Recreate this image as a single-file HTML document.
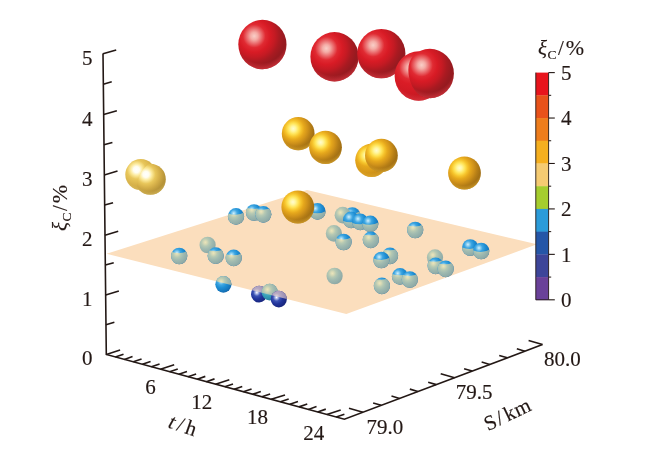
<!DOCTYPE html>
<html><head><meta charset="utf-8"><title>3D scatter</title>
<style>
html,body{margin:0;padding:0;background:#fff}
svg{display:block}
text{font-family:"Liberation Serif",serif;fill:#231815;stroke:#231815;stroke-width:0.15px}
</style></head><body>
<svg width="650" height="471" viewBox="0 0 650 471">
<defs>
<radialGradient id="gRed" cx="0.33" cy="0.33" r="0.78" fx="0.33" fy="0.33"><stop offset="0" stop-color="#f9cfc8"/><stop offset="0.1" stop-color="#f4aca6"/><stop offset="0.2" stop-color="#ea6a6c"/><stop offset="0.3" stop-color="#e02a32"/><stop offset="0.42" stop-color="#d81b25"/><stop offset="0.55" stop-color="#c41a23"/><stop offset="0.67" stop-color="#a91a21"/><stop offset="0.8" stop-color="#971a20"/><stop offset="1" stop-color="#8f1a1f"/></radialGradient>
<radialGradient id="gRedB" cx="0.33" cy="0.33" r="0.78" fx="0.33" fy="0.33"><stop offset="0" stop-color="#f9cfc8"/><stop offset="0.1" stop-color="#f4aca6"/><stop offset="0.2" stop-color="#ea6a6c"/><stop offset="0.3" stop-color="#e02a32"/><stop offset="0.42" stop-color="#da1c26"/><stop offset="0.6" stop-color="#d21a24"/><stop offset="0.8" stop-color="#c41a23"/><stop offset="1" stop-color="#b41a22"/></radialGradient>
<radialGradient id="rRed" cx="0.47" cy="0.34" r="0.67"><stop offset="0.8" stop-color="#e23a44" stop-opacity="0"/><stop offset="1" stop-color="#e23a44" stop-opacity="0.7"/></radialGradient>
<radialGradient id="gGold" cx="0.35" cy="0.35" r="0.77" fx="0.35" fy="0.35"><stop offset="0" stop-color="#fffbd0"/><stop offset="0.1" stop-color="#fff6a0"/><stop offset="0.21" stop-color="#ffe458"/><stop offset="0.32" stop-color="#f6c42c"/><stop offset="0.43" stop-color="#e6a81c"/><stop offset="0.57" stop-color="#d0921a"/><stop offset="0.7" stop-color="#b67e16"/><stop offset="0.84" stop-color="#a06e14"/><stop offset="1" stop-color="#946412"/></radialGradient>
<radialGradient id="gGoldB" cx="0.35" cy="0.35" r="0.77" fx="0.35" fy="0.35"><stop offset="0" stop-color="#fffbd0"/><stop offset="0.1" stop-color="#fff6a0"/><stop offset="0.21" stop-color="#ffe458"/><stop offset="0.32" stop-color="#f6c42c"/><stop offset="0.43" stop-color="#e6a81c"/><stop offset="0.62" stop-color="#d89a1a"/><stop offset="0.82" stop-color="#c88c18"/><stop offset="1" stop-color="#b88016"/></radialGradient>
<radialGradient id="rGold" cx="0.47" cy="0.34" r="0.67"><stop offset="0.8" stop-color="#e6b030" stop-opacity="0"/><stop offset="1" stop-color="#e6b030" stop-opacity="0.7"/></radialGradient>
<radialGradient id="gPale" cx="0.36" cy="0.34" r="0.76" fx="0.36" fy="0.34"><stop offset="0" stop-color="#ffffff"/><stop offset="0.13" stop-color="#fffdf0"/><stop offset="0.25" stop-color="#fcea9c"/><stop offset="0.4" stop-color="#e8c65a"/><stop offset="0.58" stop-color="#d4ae48"/><stop offset="0.78" stop-color="#b9963a"/><stop offset="1" stop-color="#a88834"/></radialGradient>
<radialGradient id="gPaleB" cx="0.36" cy="0.34" r="0.76" fx="0.36" fy="0.34"><stop offset="0" stop-color="#ffffff"/><stop offset="0.13" stop-color="#fffdf0"/><stop offset="0.25" stop-color="#fcea9c"/><stop offset="0.4" stop-color="#e8c65a"/><stop offset="0.62" stop-color="#d9b44c"/><stop offset="0.85" stop-color="#c8a342"/><stop offset="1" stop-color="#b9963a"/></radialGradient>
<radialGradient id="rPale" cx="0.47" cy="0.34" r="0.67"><stop offset="0.8" stop-color="#e4c666" stop-opacity="0"/><stop offset="1" stop-color="#e4c666" stop-opacity="0.6"/></radialGradient>
<radialGradient id="gBlue" cx="0.36" cy="0.32" r="0.78" fx="0.36" fy="0.32"><stop offset="0" stop-color="#d8f0fb"/><stop offset="0.1" stop-color="#9ad6f3"/><stop offset="0.28" stop-color="#3ea6e2"/><stop offset="0.5" stop-color="#1f8fd4"/><stop offset="0.78" stop-color="#1677be"/><stop offset="1" stop-color="#135f9e"/></radialGradient>
<radialGradient id="gTint" cx="0.36" cy="0.34" r="0.78" fx="0.36" fy="0.34"><stop offset="0" stop-color="#ebe5bc"/><stop offset="0.12" stop-color="#dadbb6"/><stop offset="0.3" stop-color="#b6c9b3"/><stop offset="0.52" stop-color="#a0bab0"/><stop offset="0.8" stop-color="#90aca8"/><stop offset="1" stop-color="#849e9c"/></radialGradient>
<radialGradient id="gNavy" cx="0.36" cy="0.4" r="0.78" fx="0.36" fy="0.4"><stop offset="0" stop-color="#ffffff"/><stop offset="0.1" stop-color="#b5c0ea"/><stop offset="0.28" stop-color="#3b52b4"/><stop offset="0.5" stop-color="#21349a"/><stop offset="0.8" stop-color="#18267e"/><stop offset="1" stop-color="#121c66"/></radialGradient>
<radialGradient id="gNavyT" cx="0.36" cy="0.36" r="0.78" fx="0.36" fy="0.36"><stop offset="0" stop-color="#e4dcd8"/><stop offset="0.25" stop-color="#b9abc4"/><stop offset="0.6" stop-color="#a093b6"/><stop offset="1" stop-color="#8a7ea6"/></radialGradient>
<radialGradient id="gTeal" cx="0.36" cy="0.36" r="0.78" fx="0.36" fy="0.36"><stop offset="0" stop-color="#d0ecec"/><stop offset="0.15" stop-color="#7cc4d0"/><stop offset="0.45" stop-color="#3aa2ba"/><stop offset="0.8" stop-color="#2886a4"/><stop offset="1" stop-color="#1f7492"/></radialGradient>
<clipPath id="cpPlane"><polygon points="106.6,253.8 307,190 537,244.3 346.3,314.0"/></clipPath>
</defs>
<rect width="650" height="471" fill="#fff"/>
<polygon points="106.6,253.8 307,190 537,244.3 346.3,314.0" fill="#fbdebd"/>
<ellipse cx="179.2" cy="256.0" rx="8.1" ry="8.35" fill="url(#gBlue)"/>
<clipPath id="c1"><path d="M170.1,251.30 Q180.2,255.40 188.29999999999998,250.50 V265.1 H170.1 Z"/></clipPath>
<ellipse cx="179.2" cy="256.0" rx="8.1" ry="8.35" fill="url(#gTint)" clip-path="url(#c1)"/>
<ellipse cx="207.6" cy="245.0" rx="8.1" ry="8.35" fill="url(#gTint)"/>
<ellipse cx="215.7" cy="255.7" rx="8.1" ry="8.35" fill="url(#gBlue)"/>
<clipPath id="c2"><path d="M206.6,249.30 Q216.7,253.40 224.79999999999998,248.50 V264.8 H206.6 Z"/></clipPath>
<ellipse cx="215.7" cy="255.7" rx="8.1" ry="8.35" fill="url(#gTint)" clip-path="url(#c2)"/>
<ellipse cx="233.7" cy="257.9" rx="8.1" ry="8.35" fill="url(#gBlue)"/>
<clipPath id="c3"><path d="M224.6,253.50 Q234.7,257.60 242.79999999999998,252.70 V267.0 H224.6 Z"/></clipPath>
<ellipse cx="233.7" cy="257.9" rx="8.1" ry="8.35" fill="url(#gTint)" clip-path="url(#c3)"/>
<ellipse cx="254.0" cy="212.5" rx="8.1" ry="8.35" fill="url(#gBlue)"/>
<clipPath id="c4"><path d="M244.9,207.10 Q255.0,211.20 263.1,206.30 V221.6 H244.9 Z"/></clipPath>
<ellipse cx="254.0" cy="212.5" rx="8.1" ry="8.35" fill="url(#gTint)" clip-path="url(#c4)"/>
<ellipse cx="263.3" cy="214.3" rx="8.1" ry="8.35" fill="url(#gBlue)"/>
<clipPath id="c5"><path d="M254.20000000000002,207.90 Q264.3,212.00 272.40000000000003,207.10 V223.4 H254.20000000000002 Z"/></clipPath>
<ellipse cx="263.3" cy="214.3" rx="8.1" ry="8.35" fill="url(#gTint)" clip-path="url(#c5)"/>
<ellipse cx="236.0" cy="216.4" rx="8.1" ry="8.35" fill="url(#gBlue)"/>
<clipPath id="c6"><path d="M226.9,212.90 Q237.0,217.00 245.1,212.10 V225.5 H226.9 Z"/></clipPath>
<ellipse cx="236.0" cy="216.4" rx="8.1" ry="8.35" fill="url(#gTint)" clip-path="url(#c6)"/>
<ellipse cx="317.5" cy="211.4" rx="8.1" ry="8.35" fill="url(#gBlue)"/>
<clipPath id="c7"><path d="M308.4,211.50 Q318.5,215.60 326.6,210.70 V220.5 H308.4 Z"/></clipPath>
<ellipse cx="317.5" cy="211.4" rx="8.1" ry="8.35" fill="url(#gTint)" clip-path="url(#c7)"/>
<ellipse cx="352.3" cy="215.5" rx="8.1" ry="8.35" fill="url(#gBlue)"/>
<clipPath id="c8"><path d="M343.2,211.60 Q353.3,215.70 361.40000000000003,210.80 V224.6 H343.2 Z"/></clipPath>
<ellipse cx="352.3" cy="215.5" rx="8.1" ry="8.35" fill="url(#gTint)" clip-path="url(#c8)"/>
<ellipse cx="342.7" cy="215.2" rx="8.1" ry="8.35" fill="url(#gTint)"/>
<ellipse cx="351.1" cy="219.9" rx="8.1" ry="8.35" fill="url(#gBlue)"/>
<clipPath id="c9"><path d="M342.0,220.50 Q352.1,224.60 360.20000000000005,219.70 V229.0 H342.0 Z"/></clipPath>
<ellipse cx="351.1" cy="219.9" rx="8.1" ry="8.35" fill="url(#gTint)" clip-path="url(#c9)"/>
<ellipse cx="360.2" cy="221.8" rx="8.1" ry="8.35" fill="url(#gBlue)"/>
<clipPath id="c10"><path d="M351.09999999999997,222.40 Q361.2,226.50 369.3,221.60 V230.9 H351.09999999999997 Z"/></clipPath>
<ellipse cx="360.2" cy="221.8" rx="8.1" ry="8.35" fill="url(#gTint)" clip-path="url(#c10)"/>
<ellipse cx="370.3" cy="223.8" rx="8.1" ry="8.35" fill="url(#gBlue)"/>
<clipPath id="c11"><path d="M361.2,222.90 Q371.3,227.00 379.40000000000003,222.10 V232.9 H361.2 Z"/></clipPath>
<ellipse cx="370.3" cy="223.8" rx="8.1" ry="8.35" fill="url(#gTint)" clip-path="url(#c11)"/>
<ellipse cx="333.9" cy="233.4" rx="8.1" ry="8.35" fill="url(#gTint)"/>
<ellipse cx="343.6" cy="242.0" rx="8.1" ry="8.35" fill="url(#gBlue)"/>
<clipPath id="c12"><path d="M334.5,237.60 Q344.6,241.70 352.70000000000005,236.80 V251.1 H334.5 Z"/></clipPath>
<ellipse cx="343.6" cy="242.0" rx="8.1" ry="8.35" fill="url(#gTint)" clip-path="url(#c12)"/>
<ellipse cx="370.8" cy="239.8" rx="8.1" ry="8.35" fill="url(#gBlue)"/>
<clipPath id="c13"><path d="M361.7,233.40 Q371.8,237.50 379.90000000000003,232.60 V248.9 H361.7 Z"/></clipPath>
<ellipse cx="370.8" cy="239.8" rx="8.1" ry="8.35" fill="url(#gTint)" clip-path="url(#c13)"/>
<ellipse cx="415.2" cy="230.0" rx="8.1" ry="8.35" fill="url(#gBlue)"/>
<clipPath id="c14"><path d="M406.09999999999997,224.60 Q416.2,228.70 424.3,223.80 V239.1 H406.09999999999997 Z"/></clipPath>
<ellipse cx="415.2" cy="230.0" rx="8.1" ry="8.35" fill="url(#gTint)" clip-path="url(#c14)"/>
<ellipse cx="390.0" cy="255.8" rx="8.1" ry="8.35" fill="url(#gBlue)"/>
<clipPath id="c15"><path d="M380.9,248.40 Q391.0,252.50 399.1,247.60 V264.90000000000003 H380.9 Z"/></clipPath>
<ellipse cx="390.0" cy="255.8" rx="8.1" ry="8.35" fill="url(#gTint)" clip-path="url(#c15)"/>
<ellipse cx="381.4" cy="260.0" rx="8.1" ry="8.35" fill="url(#gBlue)"/>
<clipPath id="c16"><path d="M372.29999999999995,258.10 Q382.4,262.20 390.5,257.30 V269.1 H372.29999999999995 Z"/></clipPath>
<ellipse cx="381.4" cy="260.0" rx="8.1" ry="8.35" fill="url(#gTint)" clip-path="url(#c16)"/>
<ellipse cx="435.0" cy="257.6" rx="8.1" ry="8.35" fill="url(#gTint)"/>
<ellipse cx="435.6" cy="265.8" rx="8.1" ry="8.35" fill="url(#gBlue)"/>
<clipPath id="c17"><path d="M426.5,259.90 Q436.6,264.00 444.70000000000005,259.10 V274.90000000000003 H426.5 Z"/></clipPath>
<ellipse cx="435.6" cy="265.8" rx="8.1" ry="8.35" fill="url(#gTint)" clip-path="url(#c17)"/>
<ellipse cx="445.7" cy="268.8" rx="8.1" ry="8.35" fill="url(#gBlue)"/>
<clipPath id="c18"><path d="M436.59999999999997,262.40 Q446.7,266.50 454.8,261.60 V277.90000000000003 H436.59999999999997 Z"/></clipPath>
<ellipse cx="445.7" cy="268.8" rx="8.1" ry="8.35" fill="url(#gTint)" clip-path="url(#c18)"/>
<ellipse cx="400.0" cy="276.4" rx="8.1" ry="8.35" fill="url(#gBlue)"/>
<clipPath id="c19"><path d="M390.9,273.50 Q401.0,277.60 409.1,272.70 V285.5 H390.9 Z"/></clipPath>
<ellipse cx="400.0" cy="276.4" rx="8.1" ry="8.35" fill="url(#gTint)" clip-path="url(#c19)"/>
<ellipse cx="409.8" cy="279.5" rx="8.1" ry="8.35" fill="url(#gBlue)"/>
<clipPath id="c20"><path d="M400.7,274.10 Q410.8,278.20 418.90000000000003,273.30 V288.6 H400.7 Z"/></clipPath>
<ellipse cx="409.8" cy="279.5" rx="8.1" ry="8.35" fill="url(#gTint)" clip-path="url(#c20)"/>
<ellipse cx="334.6" cy="276.0" rx="8.1" ry="8.35" fill="url(#gTint)"/>
<ellipse cx="381.9" cy="285.8" rx="8.1" ry="8.35" fill="url(#gBlue)"/>
<clipPath id="c21"><path d="M372.79999999999995,277.90 Q382.9,282.00 391.0,277.10 V294.90000000000003 H372.79999999999995 Z"/></clipPath>
<ellipse cx="381.9" cy="285.8" rx="8.1" ry="8.35" fill="url(#gTint)" clip-path="url(#c21)"/>
<ellipse cx="470.2" cy="247.5" rx="8.1" ry="8.35" fill="url(#gBlue)"/>
<clipPath id="c22"><path d="M461.09999999999997,247.10 Q471.2,251.20 479.3,246.30 V256.6 H461.09999999999997 Z"/></clipPath>
<ellipse cx="470.2" cy="247.5" rx="8.1" ry="8.35" fill="url(#gTint)" clip-path="url(#c22)"/>
<ellipse cx="481.2" cy="251.0" rx="8.1" ry="8.35" fill="url(#gBlue)"/>
<clipPath id="c23"><path d="M472.09999999999997,250.10 Q482.2,254.20 490.3,249.30 V260.1 H472.09999999999997 Z"/></clipPath>
<ellipse cx="481.2" cy="251.0" rx="8.1" ry="8.35" fill="url(#gTint)" clip-path="url(#c23)"/>
<ellipse cx="223.4" cy="284.3" rx="8.1" ry="8.35" fill="url(#gBlue)"/>
<g clip-path="url(#cpPlane)"><ellipse cx="223.4" cy="284.3" rx="8.1" ry="8.35" fill="url(#gTint)"/></g>
<ellipse cx="259.1" cy="294.2" rx="8.1" ry="8.35" fill="url(#gNavy)"/>
<g clip-path="url(#cpPlane)"><ellipse cx="259.1" cy="294.2" rx="8.1" ry="8.35" fill="url(#gNavyT)"/></g>
<ellipse cx="269.7" cy="292.2" rx="8.1" ry="8.35" fill="url(#gTeal)"/>
<g clip-path="url(#cpPlane)"><ellipse cx="269.7" cy="292.2" rx="8.1" ry="8.35" fill="url(#gTint)"/></g>
<ellipse cx="278.8" cy="299.1" rx="8.1" ry="8.35" fill="url(#gNavy)"/>
<g clip-path="url(#cpPlane)"><ellipse cx="278.8" cy="299.1" rx="8.1" ry="8.35" fill="url(#gNavyT)"/></g>
<circle cx="140.8" cy="174.6" r="15.5" fill="url(#gPaleB)"/>
<circle cx="140.8" cy="174.6" r="15.5" fill="url(#rPale)"/>
<clipPath id="sp1"><ellipse transform="rotate(26.32 145.55 176.95)" cx="145.55" cy="176.95" rx="6.12" ry="14.35"/><rect transform="rotate(26.32 145.55 176.95)" x="145.55" y="130.45" width="62.00" height="93.00"/></clipPath>
<g clip-path="url(#sp1)">
<circle cx="150.3" cy="179.3" r="15.5" fill="url(#gPale)"/>
<circle cx="150.3" cy="179.3" r="15.5" fill="url(#rPale)"/>
</g>
<ellipse cx="371.6" cy="160.3" rx="16.4" ry="16.6" fill="url(#gGoldB)"/>
<ellipse cx="371.6" cy="160.3" rx="16.4" ry="16.6" fill="url(#rGold)"/>
<ellipse cx="298.2" cy="133.7" rx="16.4" ry="16.6" fill="url(#gGold)"/>
<ellipse cx="298.2" cy="133.7" rx="16.4" ry="16.6" fill="url(#rGold)"/>
<ellipse cx="325.5" cy="147.3" rx="16.4" ry="16.6" fill="url(#gGold)"/>
<ellipse cx="325.5" cy="147.3" rx="16.4" ry="16.6" fill="url(#rGold)"/>
<ellipse cx="381.4" cy="155.4" rx="16.4" ry="16.6" fill="url(#gGold)"/>
<ellipse cx="381.4" cy="155.4" rx="16.4" ry="16.6" fill="url(#rGold)"/>
<ellipse cx="297.8" cy="207.0" rx="16.4" ry="16.6" fill="url(#gGold)"/>
<ellipse cx="297.8" cy="207.0" rx="16.4" ry="16.6" fill="url(#rGold)"/>
<ellipse cx="464.5" cy="173.0" rx="16.4" ry="16.6" fill="url(#gGold)"/>
<ellipse cx="464.5" cy="173.0" rx="16.4" ry="16.6" fill="url(#rGold)"/>
<ellipse cx="262.4" cy="44.5" rx="24.1" ry="24.7" fill="url(#gRed)"/>
<ellipse cx="262.4" cy="44.5" rx="24.1" ry="24.7" fill="url(#rRed)"/>
<ellipse cx="334.5" cy="56.8" rx="24.1" ry="24.7" fill="url(#gRed)"/>
<ellipse cx="334.5" cy="56.8" rx="24.1" ry="24.7" fill="url(#rRed)"/>
<ellipse cx="381.3" cy="53.6" rx="24.1" ry="24.7" fill="url(#gRed)"/>
<ellipse cx="381.3" cy="53.6" rx="24.1" ry="24.7" fill="url(#rRed)"/>
<ellipse cx="418.7" cy="76.0" rx="24.1" ry="24.7" fill="url(#gRedB)"/>
<ellipse cx="418.7" cy="76.0" rx="24.1" ry="24.7" fill="url(#rRed)"/>
<clipPath id="sp2"><ellipse transform="rotate(-12.69 424.25 74.75)" cx="424.25" cy="74.75" rx="15.31" ry="23.19"/><rect transform="rotate(-12.69 424.25 74.75)" x="424.25" y="1.55" width="97.60" height="146.40"/></clipPath>
<g clip-path="url(#sp2)">
<ellipse cx="429.8" cy="73.5" rx="24.1" ry="24.7" fill="url(#gRed)"/>
<ellipse cx="429.8" cy="73.5" rx="24.1" ry="24.7" fill="url(#rRed)"/>
</g>
<polyline points="103.0,53.5 106.30,354.5 344.4,419.2 542.5,344.6" fill="none" stroke="#231815" stroke-width="1.6" stroke-linejoin="miter"/>
<line x1="105.97" y1="324.65" x2="114.37" y2="322.25" stroke="#231815" stroke-width="1.6" stroke-linecap="butt"/>
<line x1="105.65" y1="294.90" x2="118.85" y2="291.00" stroke="#231815" stroke-width="1.6" stroke-linecap="butt"/>
<line x1="105.32" y1="265.05" x2="113.72" y2="262.65" stroke="#231815" stroke-width="1.6" stroke-linecap="butt"/>
<line x1="104.99" y1="235.20" x2="118.19" y2="231.30" stroke="#231815" stroke-width="1.6" stroke-linecap="butt"/>
<line x1="104.66" y1="205.10" x2="113.06" y2="202.70" stroke="#231815" stroke-width="1.6" stroke-linecap="butt"/>
<line x1="104.33" y1="175.00" x2="117.53" y2="171.10" stroke="#231815" stroke-width="1.6" stroke-linecap="butt"/>
<line x1="104.00" y1="144.80" x2="112.40" y2="142.40" stroke="#231815" stroke-width="1.6" stroke-linecap="butt"/>
<line x1="103.67" y1="114.60" x2="116.87" y2="110.70" stroke="#231815" stroke-width="1.6" stroke-linecap="butt"/>
<line x1="103.33" y1="84.20" x2="111.73" y2="81.80" stroke="#231815" stroke-width="1.6" stroke-linecap="butt"/>
<line x1="103.00" y1="53.80" x2="116.20" y2="49.90" stroke="#231815" stroke-width="1.6" stroke-linecap="butt"/>
<line x1="106.30" y1="354.50" x2="120.10" y2="350.10" stroke="#231815" stroke-width="1.6" stroke-linecap="butt"/>
<line x1="115.32" y1="356.95" x2="123.52" y2="354.15" stroke="#231815" stroke-width="1.6" stroke-linecap="butt"/>
<line x1="124.33" y1="359.40" x2="132.53" y2="356.60" stroke="#231815" stroke-width="1.6" stroke-linecap="butt"/>
<line x1="133.35" y1="361.85" x2="141.55" y2="359.05" stroke="#231815" stroke-width="1.6" stroke-linecap="butt"/>
<line x1="142.37" y1="364.30" x2="150.57" y2="361.50" stroke="#231815" stroke-width="1.6" stroke-linecap="butt"/>
<line x1="151.38" y1="366.75" x2="159.58" y2="363.95" stroke="#231815" stroke-width="1.6" stroke-linecap="butt"/>
<line x1="160.40" y1="369.20" x2="174.20" y2="364.80" stroke="#231815" stroke-width="1.6" stroke-linecap="butt"/>
<line x1="169.58" y1="371.70" x2="177.78" y2="368.90" stroke="#231815" stroke-width="1.6" stroke-linecap="butt"/>
<line x1="178.77" y1="374.19" x2="186.97" y2="371.39" stroke="#231815" stroke-width="1.6" stroke-linecap="butt"/>
<line x1="187.95" y1="376.69" x2="196.15" y2="373.89" stroke="#231815" stroke-width="1.6" stroke-linecap="butt"/>
<line x1="197.13" y1="379.18" x2="205.33" y2="376.38" stroke="#231815" stroke-width="1.6" stroke-linecap="butt"/>
<line x1="206.32" y1="381.68" x2="214.52" y2="378.88" stroke="#231815" stroke-width="1.6" stroke-linecap="butt"/>
<line x1="215.50" y1="384.17" x2="229.30" y2="379.77" stroke="#231815" stroke-width="1.6" stroke-linecap="butt"/>
<line x1="224.78" y1="386.70" x2="232.98" y2="383.90" stroke="#231815" stroke-width="1.6" stroke-linecap="butt"/>
<line x1="234.07" y1="389.22" x2="242.27" y2="386.42" stroke="#231815" stroke-width="1.6" stroke-linecap="butt"/>
<line x1="243.35" y1="391.74" x2="251.55" y2="388.94" stroke="#231815" stroke-width="1.6" stroke-linecap="butt"/>
<line x1="252.63" y1="394.26" x2="260.83" y2="391.46" stroke="#231815" stroke-width="1.6" stroke-linecap="butt"/>
<line x1="261.92" y1="396.79" x2="270.12" y2="393.99" stroke="#231815" stroke-width="1.6" stroke-linecap="butt"/>
<line x1="271.20" y1="399.31" x2="285.00" y2="394.91" stroke="#231815" stroke-width="1.6" stroke-linecap="butt"/>
<line x1="280.48" y1="401.83" x2="288.68" y2="399.03" stroke="#231815" stroke-width="1.6" stroke-linecap="butt"/>
<line x1="289.77" y1="404.35" x2="297.97" y2="401.55" stroke="#231815" stroke-width="1.6" stroke-linecap="butt"/>
<line x1="299.05" y1="406.88" x2="307.25" y2="404.08" stroke="#231815" stroke-width="1.6" stroke-linecap="butt"/>
<line x1="308.33" y1="409.40" x2="316.53" y2="406.60" stroke="#231815" stroke-width="1.6" stroke-linecap="butt"/>
<line x1="317.62" y1="411.92" x2="325.82" y2="409.12" stroke="#231815" stroke-width="1.6" stroke-linecap="butt"/>
<line x1="326.90" y1="414.44" x2="340.70" y2="410.04" stroke="#231815" stroke-width="1.6" stroke-linecap="butt"/>
<line x1="336.20" y1="416.97" x2="344.40" y2="414.17" stroke="#231815" stroke-width="1.6" stroke-linecap="butt"/>
<line x1="362.90" y1="412.23" x2="349.00" y2="408.23" stroke="#231815" stroke-width="1.6" stroke-linecap="butt"/>
<line x1="381.24" y1="405.33" x2="373.14" y2="402.93" stroke="#231815" stroke-width="1.6" stroke-linecap="butt"/>
<line x1="399.58" y1="398.42" x2="391.48" y2="396.02" stroke="#231815" stroke-width="1.6" stroke-linecap="butt"/>
<line x1="417.92" y1="391.51" x2="409.82" y2="389.11" stroke="#231815" stroke-width="1.6" stroke-linecap="butt"/>
<line x1="436.26" y1="384.61" x2="428.16" y2="382.21" stroke="#231815" stroke-width="1.6" stroke-linecap="butt"/>
<line x1="454.60" y1="377.70" x2="440.70" y2="373.70" stroke="#231815" stroke-width="1.6" stroke-linecap="butt"/>
<line x1="472.18" y1="371.08" x2="464.08" y2="368.68" stroke="#231815" stroke-width="1.6" stroke-linecap="butt"/>
<line x1="489.76" y1="364.46" x2="481.66" y2="362.06" stroke="#231815" stroke-width="1.6" stroke-linecap="butt"/>
<line x1="507.34" y1="357.84" x2="499.24" y2="355.44" stroke="#231815" stroke-width="1.6" stroke-linecap="butt"/>
<line x1="524.92" y1="351.22" x2="516.82" y2="348.82" stroke="#231815" stroke-width="1.6" stroke-linecap="butt"/>
<line x1="542.50" y1="344.60" x2="528.60" y2="340.60" stroke="#231815" stroke-width="1.6" stroke-linecap="butt"/>
<text x="92.6" y="365.4" font-size="21" text-anchor="end" >0</text>
<text x="92.6" y="305.9" font-size="21" text-anchor="end" >1</text>
<text x="92.6" y="246.2" font-size="21" text-anchor="end" >2</text>
<text x="92.6" y="186.0" font-size="21" text-anchor="end" >3</text>
<text x="92.6" y="125.6" font-size="21" text-anchor="end" >4</text>
<text x="92.6" y="64.8" font-size="21" text-anchor="end" >5</text>
<text x="150.5" y="393.9" font-size="21" text-anchor="middle" >6</text>
<text x="201.8" y="408.6" font-size="21" text-anchor="middle" >12</text>
<text x="257.4" y="423.7" font-size="21" text-anchor="middle" >18</text>
<text x="313.8" y="440.1" font-size="21" text-anchor="middle" >24</text>
<text x="384.8" y="434" font-size="21" text-anchor="middle" >79.0</text>
<text x="474.0" y="399.2" font-size="21" text-anchor="middle" >79.5</text>
<text x="562.3" y="365.6" font-size="21" text-anchor="middle" >80.0</text>
<text font-size="21" transform="translate(67,231) rotate(-90)"><tspan font-style="italic" font-size="21">ξ</tspan><tspan font-size="13.5" dy="4" dx="0.5">C</tspan><tspan dy="-4" dx="1.5" font-size="21">/</tspan><tspan dx="2" font-size="22">%</tspan></text>
<text font-size="21" x="538" y="54.5"><tspan font-style="italic" font-size="21">ξ</tspan><tspan font-size="13.5" dy="4" dx="0.5">C</tspan><tspan dy="-4" dx="1.5" font-size="21">/</tspan><tspan dx="2" font-size="22">%</tspan></text>
<text font-size="21" transform="translate(167.3,427.2) rotate(19)"><tspan font-style="italic">t</tspan><tspan dx="3">/</tspan><tspan dx="3">h</tspan></text>
<text font-size="21" transform="translate(487.9,431.3) rotate(-25.5)">S<tspan dx="1.5">/</tspan><tspan dx="3">k</tspan><tspan dx="0.6">m</tspan></text>
<rect x="535.8" y="72.60" width="12.80" height="23.02" fill="#e8141c"/>
<rect x="535.8" y="95.32" width="12.80" height="23.02" fill="#e8521a"/>
<rect x="535.8" y="118.04" width="12.80" height="23.02" fill="#ee7d1c"/>
<rect x="535.8" y="140.76" width="12.80" height="23.02" fill="#f5af1f"/>
<rect x="535.8" y="163.48" width="12.80" height="23.02" fill="#f5cb72"/>
<rect x="535.8" y="186.20" width="12.80" height="23.02" fill="#a5cd2e"/>
<rect x="535.8" y="208.92" width="12.80" height="23.02" fill="#2b9bd9"/>
<rect x="535.8" y="231.64" width="12.80" height="23.02" fill="#2556a7"/>
<rect x="535.8" y="254.36" width="12.80" height="23.02" fill="#3d4599"/>
<rect x="535.8" y="277.08" width="12.80" height="23.02" fill="#6a4199"/>
<path d="M535.8,72.6 V299.8 H548.6 V72.6" fill="none" stroke="#231815" stroke-width="0.9"/>
<line x1="548.60" y1="72.60" x2="554.80" y2="72.60" stroke="#231815" stroke-width="1.1" stroke-linecap="butt"/>
<text x="561" y="80.0" font-size="21" text-anchor="start" >5</text>
<line x1="548.60" y1="95.32" x2="551.20" y2="95.32" stroke="#231815" stroke-width="1.0" stroke-linecap="butt"/>
<line x1="548.60" y1="118.04" x2="554.80" y2="118.04" stroke="#231815" stroke-width="1.1" stroke-linecap="butt"/>
<text x="561" y="125.44" font-size="21" text-anchor="start" >4</text>
<line x1="548.60" y1="140.76" x2="551.20" y2="140.76" stroke="#231815" stroke-width="1.0" stroke-linecap="butt"/>
<line x1="548.60" y1="163.48" x2="554.80" y2="163.48" stroke="#231815" stroke-width="1.1" stroke-linecap="butt"/>
<text x="561" y="170.88000000000002" font-size="21" text-anchor="start" >3</text>
<line x1="548.60" y1="186.20" x2="551.20" y2="186.20" stroke="#231815" stroke-width="1.0" stroke-linecap="butt"/>
<line x1="548.60" y1="208.92" x2="554.80" y2="208.92" stroke="#231815" stroke-width="1.1" stroke-linecap="butt"/>
<text x="561" y="216.32000000000002" font-size="21" text-anchor="start" >2</text>
<line x1="548.60" y1="231.64" x2="551.20" y2="231.64" stroke="#231815" stroke-width="1.0" stroke-linecap="butt"/>
<line x1="548.60" y1="254.36" x2="554.80" y2="254.36" stroke="#231815" stroke-width="1.1" stroke-linecap="butt"/>
<text x="561" y="261.76" font-size="21" text-anchor="start" >1</text>
<line x1="548.60" y1="277.08" x2="551.20" y2="277.08" stroke="#231815" stroke-width="1.0" stroke-linecap="butt"/>
<line x1="548.60" y1="299.80" x2="554.80" y2="299.80" stroke="#231815" stroke-width="1.1" stroke-linecap="butt"/>
<text x="561" y="307.2" font-size="21" text-anchor="start" >0</text>
</svg></body></html>
